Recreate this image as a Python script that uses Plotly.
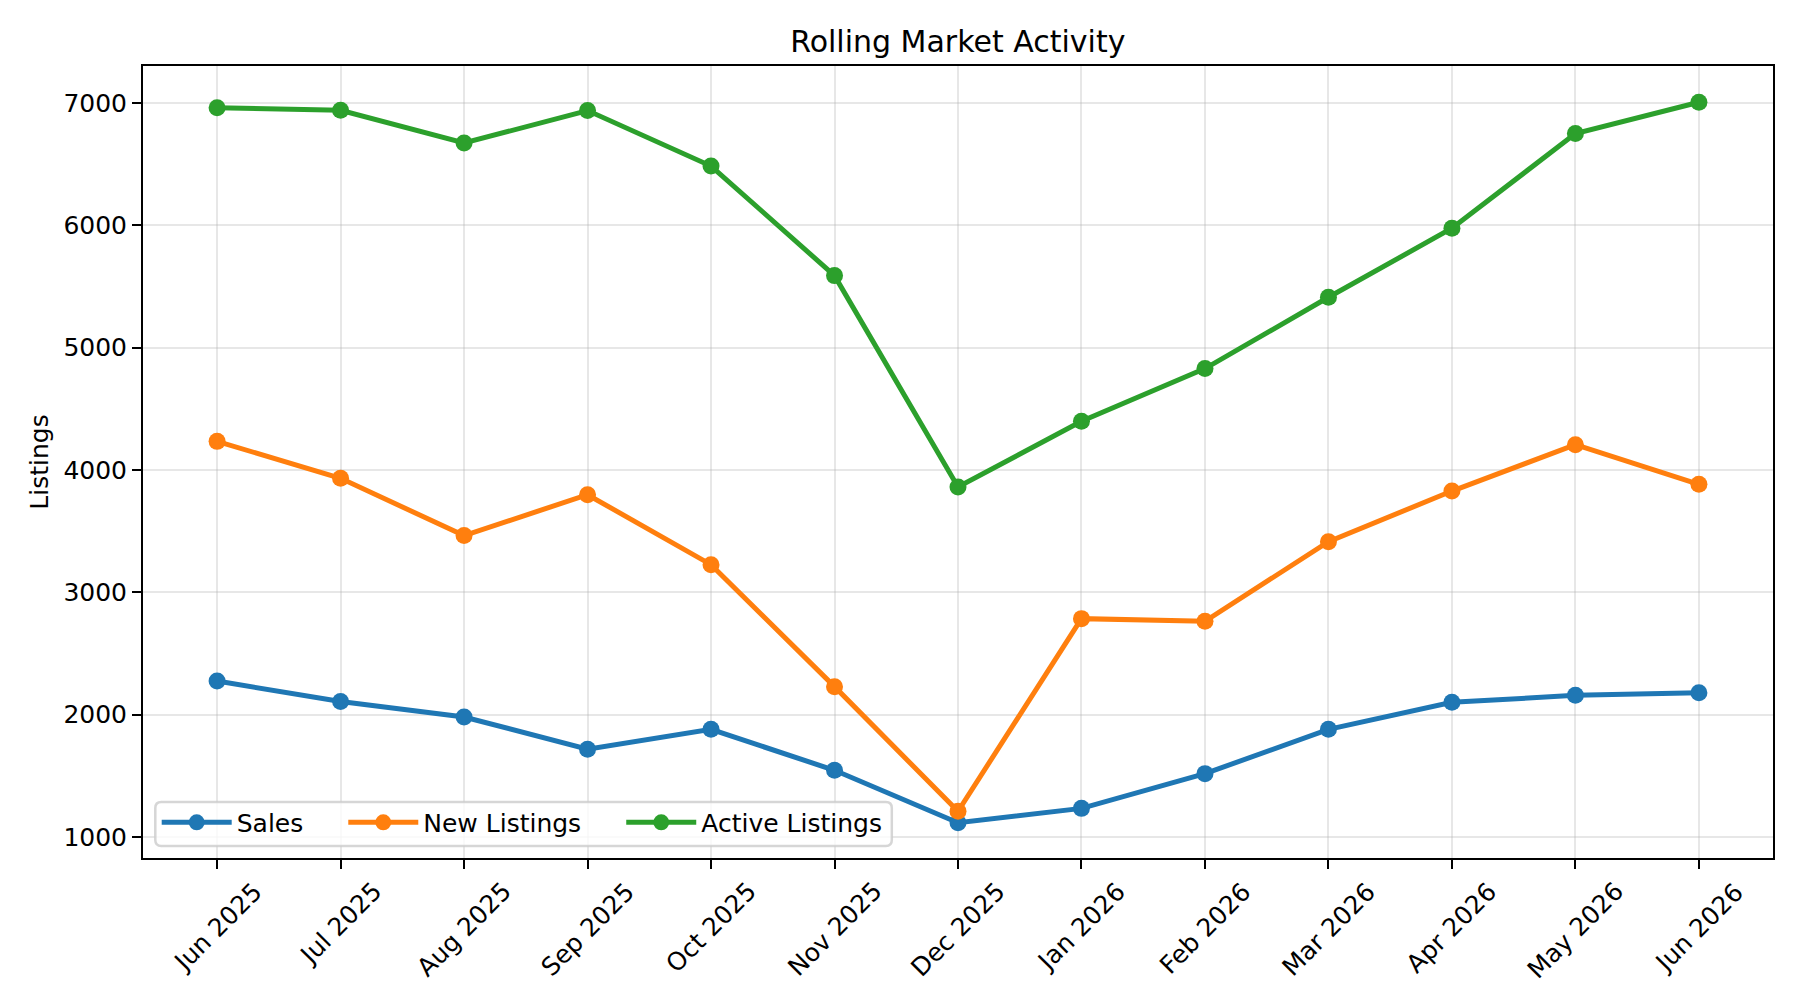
import plotly.graph_objects as go

months = ["Jun 2025", "Jul 2025", "Aug 2025", "Sep 2025", "Oct 2025", "Nov 2025",
          "Dec 2025", "Jan 2026", "Feb 2026", "Mar 2026", "Apr 2026", "May 2026", "Jun 2026"]
sales = [2275, 2107, 1981, 1718, 1880, 1545, 1117, 1234, 1518, 1880, 2101, 2158, 2180]
new_listings = [4234, 3932, 3464, 3798, 3226, 2229, 1210, 2785, 2763, 3414, 3828, 4207, 3883]
active_listings = [6962, 6940, 6673, 6938, 6485, 5589, 3861, 4398, 4829, 5412, 5976, 6750, 7006]
y_ticks = [1000, 2000, 3000, 4000, 5000, 6000, 7000]

series = [
    ("Sales", sales, "#1f77b4", "legend"),
    ("New Listings", new_listings, "#ff7f0e", "legend2"),
    ("Active Listings", active_listings, "#2ca02c", "legend3"),
]

FONT = "DejaVu Sans"
W, H = 1800, 1007
L, R, T, B = 142.7, 1772.9, 65.7, 857.7
PW, PH = R - L, B - T


def px(xpix):
    return (xpix - L) / PW


def py(ypix):
    return (B - ypix) / PH


fig = go.Figure()
for name, vals, color, leg in series:
    fig.add_trace(go.Scatter(
        x=months, y=vals, name=name, mode="lines+markers",
        line=dict(color=color, width=5),
        marker=dict(color=color, size=17),
        legend=leg,
    ))

for m in months:
    fig.add_annotation(
        x=m, y=0, xref="x", yref="paper", text=m, showarrow=False,
        textangle=-45, xanchor="center", yanchor="top", yshift=-16,
        font=dict(family=FONT, size=25, color="black"),
    )

# legend frame (rounded)
x0, x1, y0, y1 = px(155), px(891.6), py(845.7), py(801.7)
rx, ry = 6 / PW, 6 / PH
path = (f"M{x0 + rx},{y0} L{x1 - rx},{y0} Q{x1},{y0} {x1},{y0 + ry} "
        f"L{x1},{y1 - ry} Q{x1},{y1} {x1 - rx},{y1} L{x0 + rx},{y1} "
        f"Q{x0},{y1} {x0},{y1 - ry} L{x0},{y0 + ry} Q{x0},{y0} {x0 + rx},{y0} Z")
fig.add_shape(type="path", path=path, xref="paper", yref="paper", layer="above",
              fillcolor="rgba(255,255,255,0.8)", line=dict(color="rgba(204,204,204,0.8)", width=2.5))

leg_common = dict(orientation="h", xanchor="left", yanchor="middle", y=py(822.3),
                  bgcolor="rgba(0,0,0,0)", borderwidth=0, itemwidth=70,
                  font=dict(family=FONT, size=25, color="black"))
legend_x = {"legend": 163.4, "legend2": 350, "legend3": 628}

fig.update_layout(
    width=W, height=H,
    margin=dict(l=L, r=W - R, t=T, b=H - B, pad=0),
    paper_bgcolor="white", plot_bgcolor="white",
    font=dict(family=FONT, size=25, color="black"),
    title=dict(text="Rolling Market Activity", x=(L + R) / 2 / W, xanchor="center",
               yref="container", y=1 - 41 / H, yanchor="middle",
               font=dict(family=FONT, size=30, color="black")),
    showlegend=True,
    legend=dict(x=px(legend_x["legend"] - 7), **leg_common),
    legend2=dict(x=px(legend_x["legend2"] - 7), **leg_common),
    legend3=dict(x=px(legend_x["legend3"] - 7), **leg_common),
    xaxis=dict(
        type="category", categoryorder="array", categoryarray=months,
        range=[-0.6, 12.6], showticklabels=False,
        showline=True, linecolor="black", linewidth=2, mirror=True,
        ticks="outside", ticklen=9, tickwidth=2, tickcolor="black",
        showgrid=True, gridcolor="rgba(176,176,176,0.3)", gridwidth=2,
        zeroline=False,
    ),
    yaxis=dict(
        range=[828.3, 7302.5], tickvals=y_ticks, ticktext=[str(v) for v in y_ticks],
        showline=True, linecolor="black", linewidth=2, mirror=True,
        ticks="outside", ticklen=9, tickwidth=2, tickcolor="black",
        showgrid=True, gridcolor="rgba(176,176,176,0.3)", gridwidth=2,
        zeroline=False,
        tickfont=dict(family=FONT, size=25, color="black"),
        title=dict(text="Listings", standoff=8, font=dict(family=FONT, size=25, color="black")),
    ),
)

fig.write_html("out.html")
